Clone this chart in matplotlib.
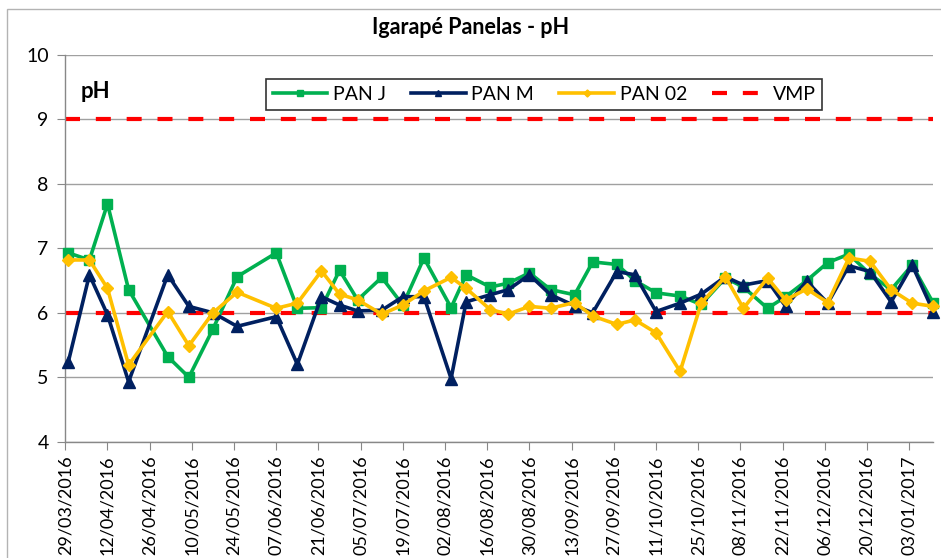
import matplotlib
matplotlib.use("Agg")
import matplotlib.pyplot as plt
import matplotlib.dates as mdates
import pandas as pd
from matplotlib.patches import Rectangle

plt.rcParams["font.family"] = ["Lato", "DejaVu Sans"]

# sampling dates (dd/mm/yyyy)
dates = [
    "30/03/2016", "06/04/2016", "12/04/2016", "19/04/2016", "02/05/2016",
    "09/05/2016", "17/05/2016", "25/05/2016", "07/06/2016", "14/06/2016",
    "22/06/2016", "28/06/2016", "04/07/2016", "12/07/2016", "19/07/2016",
    "26/07/2016", "04/08/2016", "09/08/2016", "17/08/2016", "23/08/2016",
    "30/08/2016", "06/09/2016", "14/09/2016", "20/09/2016", "28/09/2016",
    "04/10/2016", "11/10/2016", "19/10/2016", "26/10/2016", "03/11/2016",
    "09/11/2016", "17/11/2016", "23/11/2016", "30/11/2016", "07/12/2016",
    "14/12/2016", "21/12/2016", "28/12/2016", "04/01/2017", "11/01/2017",
]

pan_j = [6.93, 6.82, 7.69, 6.36, 5.32, 5.00, 5.75, 6.56, 6.93, 6.07,
         6.08, 6.66, 6.20, 6.55, 6.12, 6.85, 6.08, 6.59, 6.40, 6.46,
         6.62, 6.36, 6.28, 6.79, 6.75, 6.50, 6.31, 6.26, 6.13, 6.54,
         6.40, 6.07, 6.25, 6.50, 6.78, 6.91, 6.60, 6.36, 6.74, 6.15]

pan_m = [5.24, 6.59, 5.97, 4.93, 6.59, 6.10, 6.00, 5.79, 5.94, 5.20,
         6.25, 6.12, 6.03, 6.04, 6.25, 6.25, 4.98, 6.17, 6.28, 6.36,
         6.59, 6.28, 6.11, 6.00, 6.64, 6.59, 6.02, 6.15, 6.29, 6.56,
         6.43, 6.50, 6.10, 6.49, 6.15, 6.73, 6.64, 6.17, 6.74, 6.02]

pan_02 = [6.82, 6.82, 6.38, 5.19, 6.02, 5.49, 6.00, 6.32, 6.07, 6.15,
          6.65, 6.29, 6.20, 5.98, 6.12, 6.34, 6.55, 6.38, 6.05, 5.98,
          6.10, 6.07, 6.16, 5.95, 5.82, 5.89, 5.69, 5.09, 6.15, 6.56,
          6.07, 6.54, 6.20, 6.37, 6.16, 6.85, 6.80, 6.36, 6.15, 6.10]

vmp = [6, 9]  # limits (valor maximo permitido)

x = pd.to_datetime(dates, format="%d/%m/%Y")
ticks = pd.date_range("2016-03-29", "2017-01-03", freq="14D")

fig = plt.figure(figsize=(9.41, 5.58), dpi=100)
ax = fig.add_axes([0.0694, 0.2084, 0.9224, 0.693])

# chart area border
fig.patches.append(Rectangle((7 / 941, -0.05), 1.0, 1.05 - 9 / 558,
                             transform=fig.transFigure, fill=False,
                             edgecolor="#b3b3b3", lw=1.0, zorder=0))

for v in vmp:
    ax.axhline(v, color="#ff0000", lw=3, dashes=(3.6, 3.8), zorder=2,
               label="VMP" if v == vmp[0] else None)

ax.plot(x, pan_j, color="#00b050", lw=2.6, marker="s", ms=7.5, label="PAN J",
        zorder=3, clip_on=False)
ax.plot(x, pan_m, color="#002060", lw=2.6, marker="^", ms=8.5, label="PAN M",
        zorder=4, clip_on=False)
ax.plot(x, pan_02, color="#ffc000", lw=2.6, marker="D", ms=6.5, label="PAN 02",
        zorder=5, clip_on=False)

ax.set_ylim(4, 10)
ax.set_yticks(range(4, 11))
ax.set_xlim(pd.Timestamp("2016-03-29"), x[-1])
ax.set_xticks(ticks)
ax.xaxis.set_major_formatter(mdates.DateFormatter("%d/%m/%Y"))
ax.tick_params(axis="x", labelrotation=90, labelsize=13, length=6, color="#888888", pad=4)
ax.tick_params(axis="y", labelsize=14, length=6, color="#888888", pad=6)

ax.grid(axis="y", color="#a0a0a0", lw=1)
ax.set_axisbelow(True)
for s in ["top", "right"]:
    ax.spines[s].set_visible(False)
for s in ["left", "bottom"]:
    ax.spines[s].set_color("#888888")
    ax.spines[s].set_linewidth(1)

ax.text(0.018, 0.905, "pH", transform=ax.transAxes, fontsize=16,
        fontweight="bold", va="center")
fig.text(0.5, 0.95, "Igarapé Panelas - pH", fontsize=15.5, fontweight="bold",
         ha="center", va="center")

h, l = ax.get_legend_handles_labels()
order = [1, 2, 3, 0]
leg = ax.legend([h[i] for i in order], [l[i] for i in order], ncol=4,
                loc="upper left", bbox_to_anchor=(0.2197, 0.963), fontsize=14,
                frameon=True, fancybox=False, edgecolor="black",
                handlelength=2.8, handletextpad=0.3, columnspacing=1.3,
                markerscale=0.55, borderpad=0.35)
leg.get_frame().set_linewidth(1.2)

fig.savefig("out.png", dpi=100)
